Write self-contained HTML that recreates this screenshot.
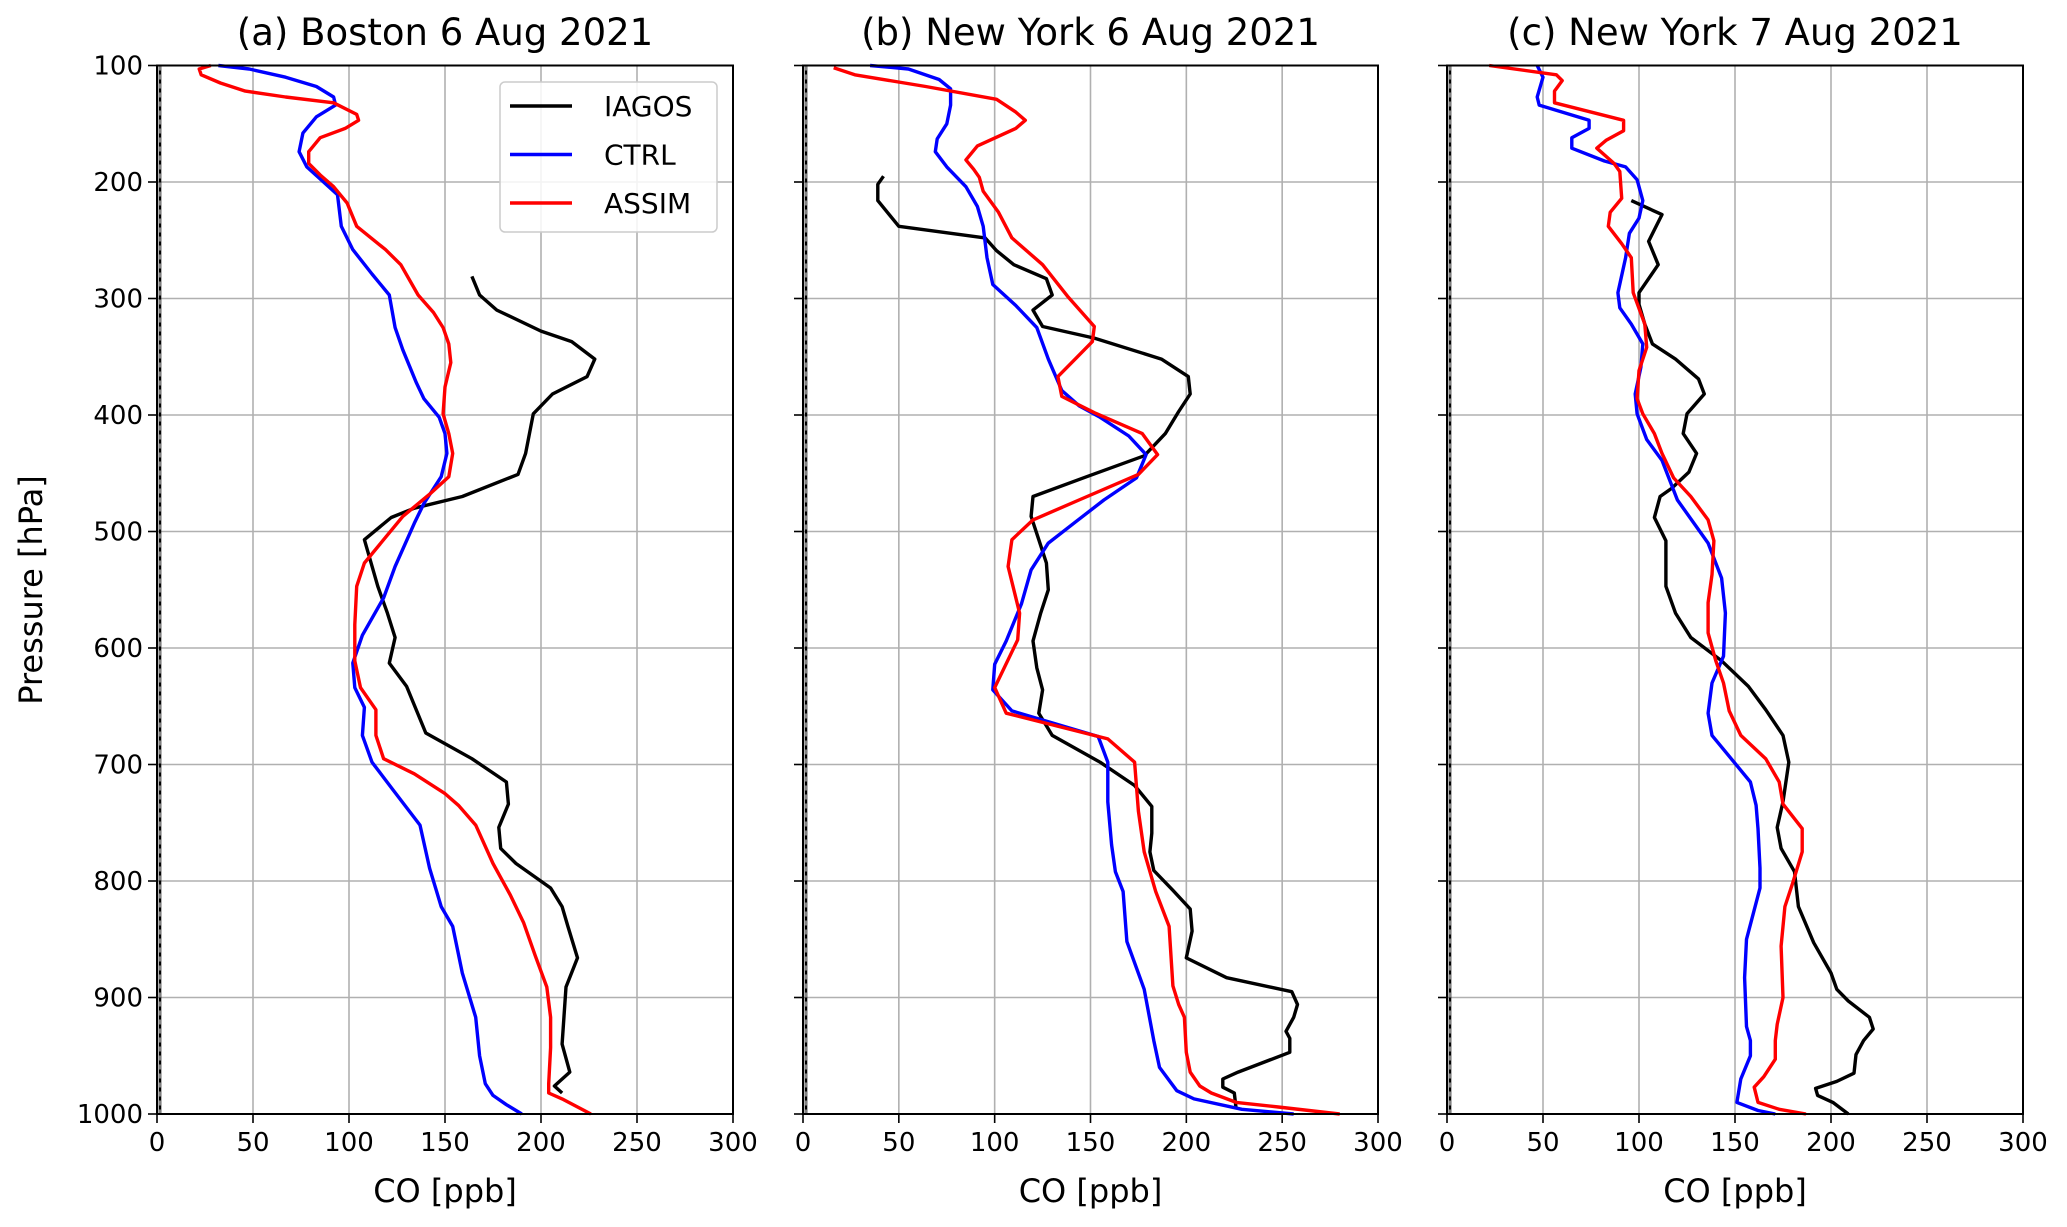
<!DOCTYPE html>
<html><head><meta charset="utf-8"><style>
html,body{margin:0;padding:0;background:#fff;}
svg{display:block;font-family:"DejaVu Sans","Liberation Sans",sans-serif;}
</style></head>
<body>
<svg id="chart" width="2067" height="1227" viewBox="0 0 2067 1227" xmlns="http://www.w3.org/2000/svg"></svg>
<script>
// ---- data: [CO ppb, pressure hPa] ----
const xTicks=[0,50,100,150,200,250,300];
const yTicks=[100,200,300,400,500,600,700,800,900,1000];
const panelTitles=["(a) Boston 6 Aug 2021","(b) New York 6 Aug 2021","(c) New York 7 Aug 2021"];
const seriesNames=["IAGOS","CTRL","ASSIM"];
const seriesColors=["#000000","#0000ff","#ff0000"];

const iagosA=[[164,281],[168,297],[177,310],[200,328],[216,337],[228,352],[224,367],[206,382],[196,399],[192,433],[188,451],[159,470],[134,480],[122,488],[108,507],[115,547],[120,570],[124,591],[121,613],[130,633],[140,673],[164,695],[182,715],[183,734],[178,754],[179,772],[187,785],[205,806],[211,822],[214,839],[219,866],[213,891],[211,940],[215,964],[207,976],[211,982]];
const ctrlA=[[32,100],[48,103],[67,110],[83,118],[92,127],[93,134],[83,144],[76,158],[74,174],[78,187],[88,202],[94,211],[96,238],[102,258],[112,279],[121,297],[124,325],[128,344],[135,372],[139,386],[147,402],[150,416],[151,433],[148,453],[139,476],[134,493],[124,530],[118,557],[107,589],[102,613],[103,634],[108,651],[107,675],[112,698],[123,722],[137,752],[142,789],[148,822],[154,839],[159,879],[166,917],[168,950],[171,974],[175,984],[182,992],[190,1000]];
const assimA=[[28,100],[22,103],[23,108],[33,115],[46,122],[67,127],[92,132],[104,142],[105,147],[98,154],[85,162],[79,174],[79,184],[85,194],[92,204],[99,218],[104,238],[119,258],[127,271],[136,297],[144,312],[149,325],[152,339],[153,355],[150,376],[149,399],[152,416],[154,433],[152,453],[142,468],[128,487],[118,507],[108,527],[104,547],[103,580],[103,611],[106,634],[114,653],[114,675],[118,695],[134,708],[150,725],[157,735],[166,752],[175,785],[184,812],[191,836],[197,864],[203,891],[205,917],[205,943],[204,974],[204,982],[211,987],[226,1000]];

const iagosB=[[42,195],[39,202],[39,216],[50,238],[95,248],[101,259],[110,271],[127,283],[130,297],[120,310],[125,324],[152,334],[187,352],[201,367],[202,382],[196,397],[189,416],[178,435],[148,453],[120,470],[119,487],[123,507],[127,527],[128,550],[124,570],[120,594],[122,617],[125,636],[123,656],[130,675],[155,698],[173,718],[182,736],[182,759],[181,775],[183,791],[193,808],[202,824],[203,843],[200,866],[221,883],[255,895],[258,906],[256,917],[252,929],[254,935],[254,947],[227,964],[219,970],[219,977],[225,982],[226,996]];
const ctrlB=[[35,100],[55,103],[71,112],[77,120],[77,134],[75,150],[70,163],[69,174],[75,187],[85,204],[91,221],[94,238],[96,265],[99,288],[111,306],[122,325],[128,352],[135,379],[144,392],[155,402],[170,418],[179,434],[174,454],[157,473],[142,492],[128,510],[119,533],[114,562],[106,594],[100,614],[99,636],[109,654],[154,676],[159,698],[159,732],[161,769],[163,792],[167,809],[169,852],[178,893],[183,937],[186,960],[195,980],[204,987],[229,996],[256,1000]];
const assimB=[[16,102],[27,108],[64,118],[101,129],[111,140],[116,147],[111,154],[91,169],[85,181],[89,189],[92,196],[94,208],[102,226],[109,248],[125,271],[138,298],[152,324],[151,337],[142,352],[133,367],[135,384],[152,398],[177,416],[185,434],[175,451],[144,473],[120,490],[109,507],[107,530],[113,570],[112,593],[100,634],[106,656],[159,678],[173,698],[175,740],[178,775],[184,809],[191,839],[193,890],[196,906],[199,917],[200,947],[202,964],[207,976],[213,982],[226,990],[248,994],[280,1000]];

const iagosC=[[96,216],[112,228],[108,241],[105,251],[108,263],[110,271],[100,295],[100,305],[103,322],[107,339],[119,352],[131,369],[134,382],[125,399],[123,416],[130,433],[126,449],[117,463],[111,470],[108,488],[114,508],[114,547],[119,570],[127,591],[143,611],[157,633],[166,653],[175,675],[178,698],[175,732],[172,754],[174,772],[181,792],[183,822],[191,853],[200,879],[203,893],[209,903],[220,917],[222,927],[217,937],[213,949],[212,965],[203,972],[192,978],[193,984],[201,990],[209,1000]];
const ctrlC=[[47,100],[50,110],[47,127],[48,134],[74,147],[74,154],[65,162],[65,171],[82,182],[93,187],[99,198],[102,216],[100,231],[95,244],[93,265],[89,295],[90,308],[96,322],[102,339],[101,359],[98,382],[99,399],[104,421],[112,439],[120,473],[136,510],[143,540],[145,570],[144,607],[138,630],[136,656],[138,675],[158,715],[161,735],[162,755],[163,789],[163,806],[156,850],[155,883],[156,925],[158,937],[158,950],[153,970],[151,990],[162,997],[171,1000]];
const assimC=[[22,100],[57,108],[60,113],[56,122],[56,132],[92,147],[92,156],[83,164],[78,171],[87,184],[90,191],[91,214],[85,226],[84,238],[91,253],[96,265],[97,295],[103,322],[104,342],[100,362],[99,386],[102,399],[108,416],[112,433],[118,454],[127,470],[136,490],[139,508],[138,537],[136,561],[136,587],[140,611],[144,630],[147,654],[153,675],[166,695],[173,715],[175,734],[185,755],[185,775],[180,802],[176,822],[174,856],[175,900],[172,923],[171,937],[171,953],[165,968],[160,977],[162,990],[173,996],[187,1000]];

const panelData=[[iagosA,ctrlA,assimA],[iagosB,ctrlB,assimB],[iagosC,ctrlC,assimC]];

// ---- layout ----
const NS="http://www.w3.org/2000/svg";
const svg=document.getElementById('chart');
const panels=[{l:157,r:733},{l:803,r:1378},{l:1447,r:2023}];
const axTop=65.5,axBot=1114;
function mk(tag,attrs,parent){const e=document.createElementNS(NS,tag);for(const k in attrs)e.setAttribute(k,attrs[k]);(parent||svg).appendChild(e);return e;}
const yScale=p=>axTop+(p-100)/900*(axBot-axTop);

panels.forEach((pn,pi)=>{
  const xScale=v=>pn.l+v/300*(pn.r-pn.l);
  const g=mk('g',{});
  
  
  xTicks.forEach(t=>{const ln=mk('line',{x1:xScale(t),x2:xScale(t),y1:axTop,y2:axBot,stroke:'#b0b0b0','stroke-width':1.6},g);
    
    });
  yTicks.forEach(t=>{const ln=mk('line',{x1:pn.l,x2:pn.r,y1:yScale(t),y2:yScale(t),stroke:'#b0b0b0','stroke-width':1.6},g);
    
    });
  const z=mk('line',{x1:xScale(0)+3,x2:xScale(0)+3,y1:axTop,y2:axBot,stroke:'#000','stroke-width':2.6},g);
  
  
  mk('line',{x1:xScale(0)+3,x2:xScale(0)+3,y1:axTop,y2:axBot,stroke:'#fff','stroke-width':1,'stroke-dasharray':'5,4'},g);
  panelData[pi].forEach((arr,si)=>{
    const pl=mk('polyline',{points:arr.map(d=>xScale(d[0]).toFixed(1)+','+yScale(d[1]).toFixed(1)).join(' '),fill:'none',stroke:seriesColors[si],'stroke-width':3.4,'stroke-linejoin':'round'},g);
    
    
  });
  const fr=mk('rect',{x:pn.l,y:axTop,width:pn.r-pn.l,height:axBot-axTop,fill:'none',stroke:'#000','stroke-width':2},g);
  
  
  xTicks.forEach(t=>{
    mk('line',{x1:xScale(t),x2:xScale(t),y1:axBot,y2:axBot+9,stroke:'#000','stroke-width':1.6},g);
    const tx=mk('text',{x:xScale(t),y:axBot+37,'text-anchor':'middle','font-size':26},g);
    tx.textContent=t;
    
    
  });
  yTicks.forEach(t=>{
    mk('line',{x1:pn.l-9,x2:pn.l,y1:yScale(t),y2:yScale(t),stroke:'#000','stroke-width':1.6},g);
    if(pi===0){const tx=mk('text',{x:pn.l-14,y:yScale(t)+9,'text-anchor':'end','font-size':26},g);
      tx.textContent=t;
      
      }
  });
  const xl=mk('text',{x:(pn.l+pn.r)/2,y:1202,'text-anchor':'middle','font-size':32},g);
  xl.textContent='CO [ppb]';
  
  
  const tt=mk('text',{x:(pn.l+pn.r)/2,y:45,'text-anchor':'middle','font-size':37},g);
  tt.textContent=panelTitles[pi];
  
  
});
const yl=mk('text',{x:0,y:0,'text-anchor':'middle','font-size':32,transform:'translate(42,590) rotate(-90)'});
yl.textContent='Pressure [hPa]';


const lg=mk('g',{});


mk('rect',{x:500,y:82,width:217,height:150,rx:5,fill:'#fff','fill-opacity':0.85,stroke:'#cccccc','stroke-width':1.5},lg);
seriesNames.forEach((n,i)=>{
  const yy=106+i*48.5;
  const e=mk('g',{},lg);
  
  
  mk('line',{x1:510,x2:572,y1:yy,y2:yy,stroke:seriesColors[i],'stroke-width':3.4},e);
  const t=mk('text',{x:604,y:yy+10,'font-size':28},e);
  t.textContent=n;
});
</script>
</body></html>
